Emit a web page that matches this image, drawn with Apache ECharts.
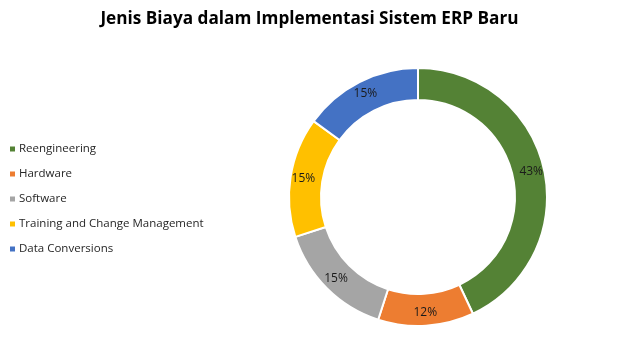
<!DOCTYPE html>
<html>
<head>
<meta charset="utf-8">
<script src="https://cdn.jsdelivr.net/npm/echarts@6/dist/echarts.min.js"></script>
<style>html,body{margin:0;padding:0;background:#fff;}#c{width:619px;height:359px;}</style>
</head>
<body>
<div id="c"></div>
<script>
const categories = ['Reengineering', 'Hardware', 'Software', 'Training and Change Management', 'Data Conversions'];
const values = [43, 12, 15, 15, 15];
const colors = ['#548235', '#ED7D31', '#A5A5A5', '#FFC000', '#4472C4'];
const titleText = 'Jenis Biaya dalam Implementasi Sistem ERP Baru';

const chart = echarts.init(document.getElementById('c'), null, {renderer: 'canvas'});
chart.setOption({
  animation: false,
  backgroundColor: '#fff',
  title: {
    text: titleText,
    left: 'center',
    top: 6,
    textStyle: {fontFamily: 'Open Sans', fontWeight: 'bold', fontSize: 17.2, color: '#000'}
  },
  legend: {
    orient: 'vertical',
    left: 3,
    top: 137,
    itemWidth: 7,
    itemHeight: 7,
    itemGap: 11,
    icon: 'rect',
    data: categories,
    textStyle: {fontFamily: 'Open Sans', fontSize: 11.5, color: '#262626', lineHeight: 14, padding: [0,0,0,-2]}
  },
  series: [{
    type: 'pie',
    center: [418, 197],
    radius: [97, 129],
    startAngle: 90,
    clockwise: true,
    avoidLabelOverlap: false,
    itemStyle: {borderColor: '#fff', borderWidth: 2},
    label: {
      show: true,
      position: 'inside',
      formatter: p => p.value + '%',
      fontFamily: 'Open Sans',
      fontSize: 12,
      color: '#1a1a1a'
    },
    labelLine: {show: false},
    data: categories.map((n, i) => ({name: n, value: values[i], itemStyle: {color: colors[i]}}))
  }]
});
</script>
</body>
</html>
